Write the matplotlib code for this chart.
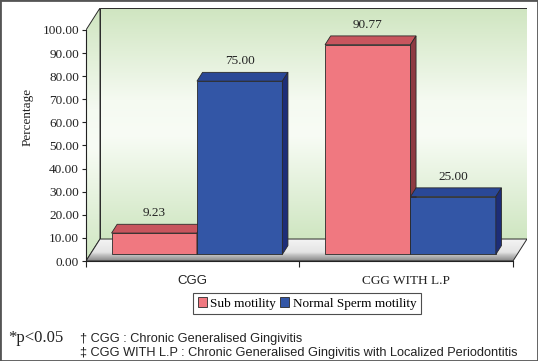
import numpy as np
import matplotlib
matplotlib.use('Agg')
import matplotlib.pyplot as plt
from matplotlib.patches import Polygon, Patch, Rectangle
from matplotlib.colors import LinearSegmentedColormap

groups = ['CGG', 'CGG WITH L.P']
sub_motility = [9.23, 90.77]
normal_motility = [75.00, 25.00]
series_names = ['Sub motility', 'Normal Sperm motility']
y_ticks = [0, 10, 20, 30, 40, 50, 60, 70, 80, 90, 100]

# colours: front, top, side
pink = ('#F07880', '#C8555E', '#8E3A42')
blue = ('#3356A6', '#2A4897', '#1D2D78')

# pseudo 3D depth (data units)
DX = 0.0656
DY = 9.52
f0, f1 = 0.3, 0.7
bw = 0.4

W, H = 538, 361
fig = plt.figure(figsize=(W / 100, H / 100), dpi=100)
ax = fig.add_axes([86 / W, 100 / H, 441 / W, 253 / H])
ax.set_xlim(-0.5, 1.5 + DX)
ax.set_ylim(0, 100 + DY)
ax.set_facecolor('none')
for s in ['top', 'right']:
    ax.spines[s].set_visible(False)
ax.spines['left'].set_bounds(0, 100)
ax.spines['bottom'].set_bounds(-0.5, 1.5)
for s in ['left', 'bottom']:
    ax.spines[s].set_linewidth(0.8)
    ax.spines[s].set_color('#222222')

edge = '#2a2a2a'

# back wall gradient
wall_cmap = LinearSegmentedColormap.from_list(
    'wall', [(0.0, '#CFE5C0'), (0.4, '#F5FAF1'), (0.55, '#F8FCF5'), (1.0, '#CFE6C1')])
grad = np.linspace(0, 1, 256).reshape(-1, 1)
ax.imshow(grad, cmap=wall_cmap, aspect='auto', origin='upper',
          extent=[-0.5 + DX, 1.5 + DX, DY, 100 + DY], zorder=0)
ax.add_patch(Rectangle((-0.5 + DX, DY), 2, 100, fill=False, edgecolor=edge, lw=0.7, zorder=1))

# left side wall
side = Polygon([(-0.5, 0), (-0.5, 100), (-0.5 + DX, 100 + DY), (-0.5 + DX, DY)],
               closed=True, transform=ax.transData, facecolor='none', edgecolor=edge, lw=0.7, zorder=1)
im = ax.imshow(grad, cmap=wall_cmap, aspect='auto', origin='upper',
               extent=[-0.5, -0.5 + DX, 0, 100 + DY], zorder=0)
im.set_clip_path(side)
ax.add_patch(side)

# floor
floor_cmap = LinearSegmentedColormap.from_list(
    'floor', [(0.0, '#F4F4F4'), (0.6, '#E4E4E4'), (0.72, '#C4C4C4'), (1.0, '#858585')])
floor = Polygon([(-0.5, 0), (1.5, 0), (1.5 + DX, DY), (-0.5 + DX, DY)],
                closed=True, transform=ax.transData, facecolor='none', edgecolor=edge, lw=0.7, zorder=2)
fim = ax.imshow(grad, cmap=floor_cmap, aspect='auto', origin='upper',
                extent=[-0.5, 1.5 + DX, 0, DY], zorder=1.5)
fim.set_clip_path(floor)
ax.add_patch(floor)

# bars, drawn left to right so the sides overlap properly
x = np.arange(len(groups))
ddx = (f1 - f0) * DX
ddy = (f1 - f0) * DY

order = []
for i in range(len(groups)):
    order.append((x[i] - bw / 2, sub_motility[i], pink))
    order.append((x[i] + bw / 2, normal_motility[i], blue))

z = 3
for xc, v, cols in order:
    bars = ax.bar(xc + f0 * DX, v, width=bw, bottom=f0 * DY, color=cols[0],
                  edgecolor=edge, linewidth=0.6, zorder=z)
    r = bars[0]
    x0, y0 = r.get_x(), r.get_y()
    x1, y1 = x0 + r.get_width(), y0 + r.get_height()
    ax.add_patch(Polygon([(x0, y1), (x1, y1), (x1 + ddx, y1 + ddy), (x0 + ddx, y1 + ddy)],
                         closed=True, facecolor=cols[1], edgecolor=edge, lw=0.6, zorder=z))
    ax.add_patch(Polygon([(x1, y0), (x1, y1), (x1 + ddx, y1 + ddy), (x1 + ddx, y0 + ddy)],
                         closed=True, facecolor=cols[2], edgecolor=edge, lw=0.6, zorder=z))
    ax.text(xc + f0 * DX, v + f1 * DY + 4.8, '%.2f' % v, ha='center', va='center',
            fontsize=9.5, family='Liberation Serif', color='#222222', zorder=z)
    z += 1

# axes ticks
ax.set_yticks(y_ticks)
ax.set_yticklabels(['%.2f' % t for t in y_ticks], family='Liberation Serif', fontsize=9.5)
ax.tick_params(axis='y', direction='out', length=3, width=0.8, pad=2, colors='#222222')
ax.set_xticks(x)
ax.set_xticklabels(groups, fontsize=9.5)
ax.tick_params(axis='x', which='major', length=0, pad=10, colors='#222222')
ax.set_xticks([-0.5, 0.5, 1.5], minor=True)
ax.tick_params(axis='x', which='minor', direction='out', length=4, width=0.8, color='#222222')
xl = ax.get_xticklabels()
xl[0].set_family('Liberation Sans')
xl[1].set_family('Liberation Serif')

fig.text(28 / W, 1 - 117 / H, 'Percentage', rotation=90, ha='center', va='center',
         family='Liberation Serif', fontsize=9.5, color='#222222')

handles = [Patch(facecolor=pink[0], edgecolor=edge, lw=0.6),
           Patch(facecolor=blue[0], edgecolor=edge, lw=0.6)]
leg = fig.legend(handles, series_names, loc='center', bbox_to_anchor=(307 / W, 1 - 303.5 / H),
                 ncol=2, frameon=True, fancybox=False, handlelength=0.7, handleheight=0.7,
                 handletextpad=0.25, columnspacing=0.3, borderpad=0.35, borderaxespad=0,
                 prop={'family': 'Liberation Serif', 'size': 9.5})
leg.get_frame().set_edgecolor('#222222')
leg.get_frame().set_linewidth(0.8)

fig.text(8 / W, 1 - 338 / H, '*p<0.05', ha='left', va='center', family='Liberation Serif',
         fontsize=12, color='#222222')
fig.text(80 / W, 1 - 339 / H, '† CGG : Chronic Generalised Gingivitis', ha='left', va='center',
         family='Liberation Sans', fontsize=9.2, color='#222222')
fig.text(80 / W, 1 - 353 / H, '‡ CGG WITH L.P : Chronic Generalised Gingivitis with Localized Periodontitis',
         ha='left', va='center', family='Liberation Sans', fontsize=9.2, color='#222222')

fig.patches.append(Rectangle((0, 0), 1, 1, transform=fig.transFigure, fill=False,
                             edgecolor='#555555', lw=2))

fig.savefig('out.png', dpi=100)
